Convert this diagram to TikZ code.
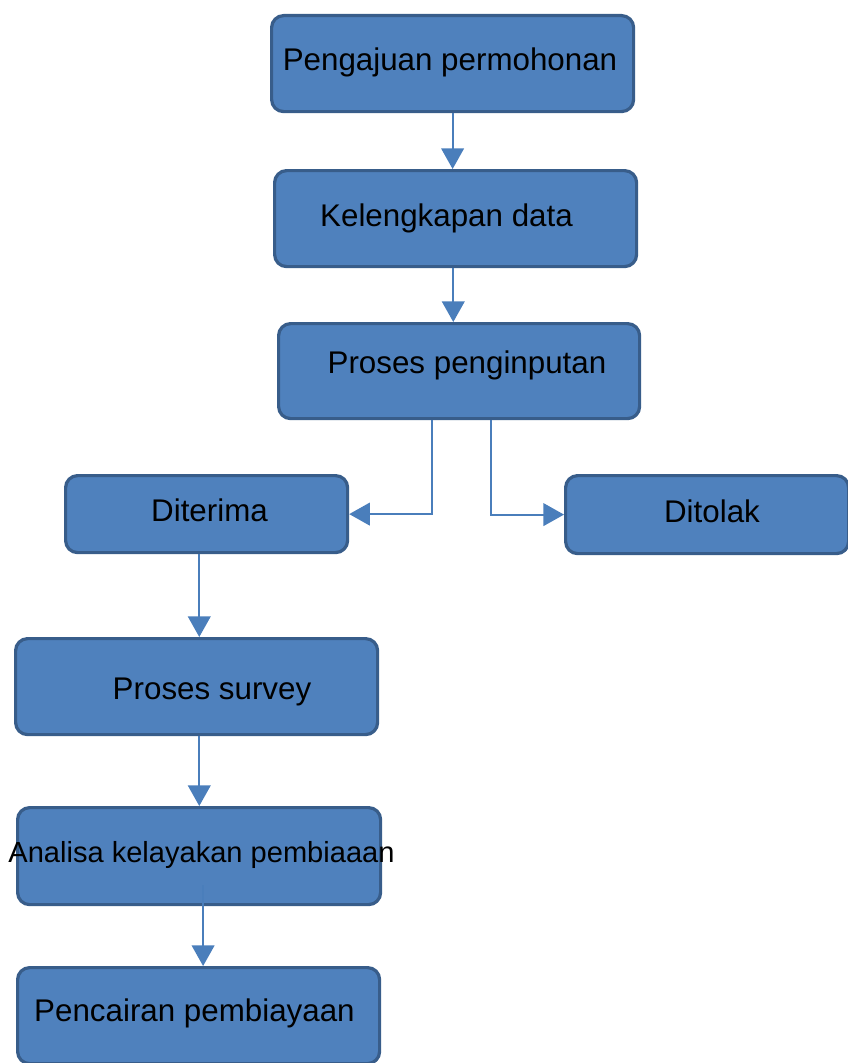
\documentclass[tikz,border=0pt]{standalone}
\usepackage{fontspec}
\setmainfont{Liberation Sans}
\usetikzlibrary{arrows.meta}

\definecolor{boxfill}{RGB}{79,129,189}
\definecolor{boxline}{RGB}{56,93,138}
\definecolor{flowline}{RGB}{74,126,187}

\tikzset{every picture/.style={line width=0.75pt}}
\tikzset{
  stepbox/.style={draw=boxline, fill=boxfill, line width=2.4pt, rounded corners=9pt, inner sep=0pt, anchor=north west},
  steptext/.style={inner sep=0.75pt, anchor=base, font=\fontsize{23.5}{28}\selectfont},
  flow/.style={draw=flowline, line width=1.5pt, -{Triangle[width=17pt,length=15.5pt]}}
}

\begin{document}
\begin{tikzpicture}[x=0.75pt,y=0.75pt,yscale=-1,xscale=1]
\useasboundingbox (0,0) rectangle (847,1063);

%Shape: Rounded Rectangle [id:b1]
\node[stepbox, minimum width=271.5pt, minimum height=72pt] (b1) at (270,14) {};
%Shape: Rounded Rectangle [id:b2]
\node[stepbox, minimum width=271.5pt, minimum height=72pt] (b2) at (273,169) {};
%Shape: Rounded Rectangle [id:b3]
\node[stepbox, minimum width=270.75pt, minimum height=71.25pt] (b3) at (277,322) {};
%Shape: Rounded Rectangle [id:b4]
\node[stepbox, minimum width=211.5pt, minimum height=57.75pt] (b4) at (64,474) {};
%Shape: Rounded Rectangle [id:b5]
\node[stepbox, minimum width=212.25pt, minimum height=58.5pt] (b5) at (564,474) {};
%Shape: Rounded Rectangle [id:b6]
\node[stepbox, minimum width=271.5pt, minimum height=72pt] (b6) at (14,637) {};
%Shape: Rounded Rectangle [id:b7]
\node[stepbox, minimum width=272.25pt, minimum height=72.75pt] (b7) at (16,806) {};
%Shape: Rounded Rectangle [id:b8]
\node[stepbox, minimum width=271.5pt, minimum height=72pt] (b8) at (16,966) {};

%Straight Lines [id:f1]
\draw[flow] (b1.south) -- (b1.south |- b2.north);
%Straight Lines [id:f2]
\draw[flow] ([xshift=-1.75pt]b2.south) -- ([xshift=-1.75pt]b2.south |- b3.north);
%Elbow Lines [id:f3]
\draw[flow] ([xshift=-20.25pt]b3.south) |- (b4.east);
%Elbow Lines [id:f4]
\draw[flow] ([xshift=24pt]b3.south) |- (b5.west);
%Straight Lines [id:f5]
\draw[flow] ([xshift=-5.5pt]b4.south) -- ([xshift=-5.5pt]b4.south |- b6.north);
%Straight Lines [id:f6]
\draw[flow] ([xshift=2pt]b6.south) -- ([xshift=2pt]b6.south |- b7.north);
%Straight Lines [id:f7]
\draw[flow] ([xshift=3pt,yshift=-15.75pt]b7.south) -- ([xshift=3pt]b7.south |- b8.north);

% Text Node
\node[steptext] (t1) at (450,70) {Pengajuan permohonan};
% Text Node
\node[steptext] (t2) at (446.5,226.5) {Kelengkapan data};
% Text Node
\node[steptext] (t3) at (467,373) {Proses penginputan};
% Text Node
\node[steptext] (t4) at (209.5,521.5) {Diterima};
% Text Node
\node[steptext] (t5) at (712,522.5) {Ditolak};
% Text Node
\node[steptext] (t6) at (212,699.5) {Proses survey};
% Text Node
\node[steptext, font=\fontsize{21.8}{26}\selectfont] (t7) at (201.5,862.5) {Analisa kelayakan pembiaaan};
% Text Node
\node[steptext] (t8) at (194.5,1021) {Pencairan pembiayaan};

\end{tikzpicture}
\end{document}
